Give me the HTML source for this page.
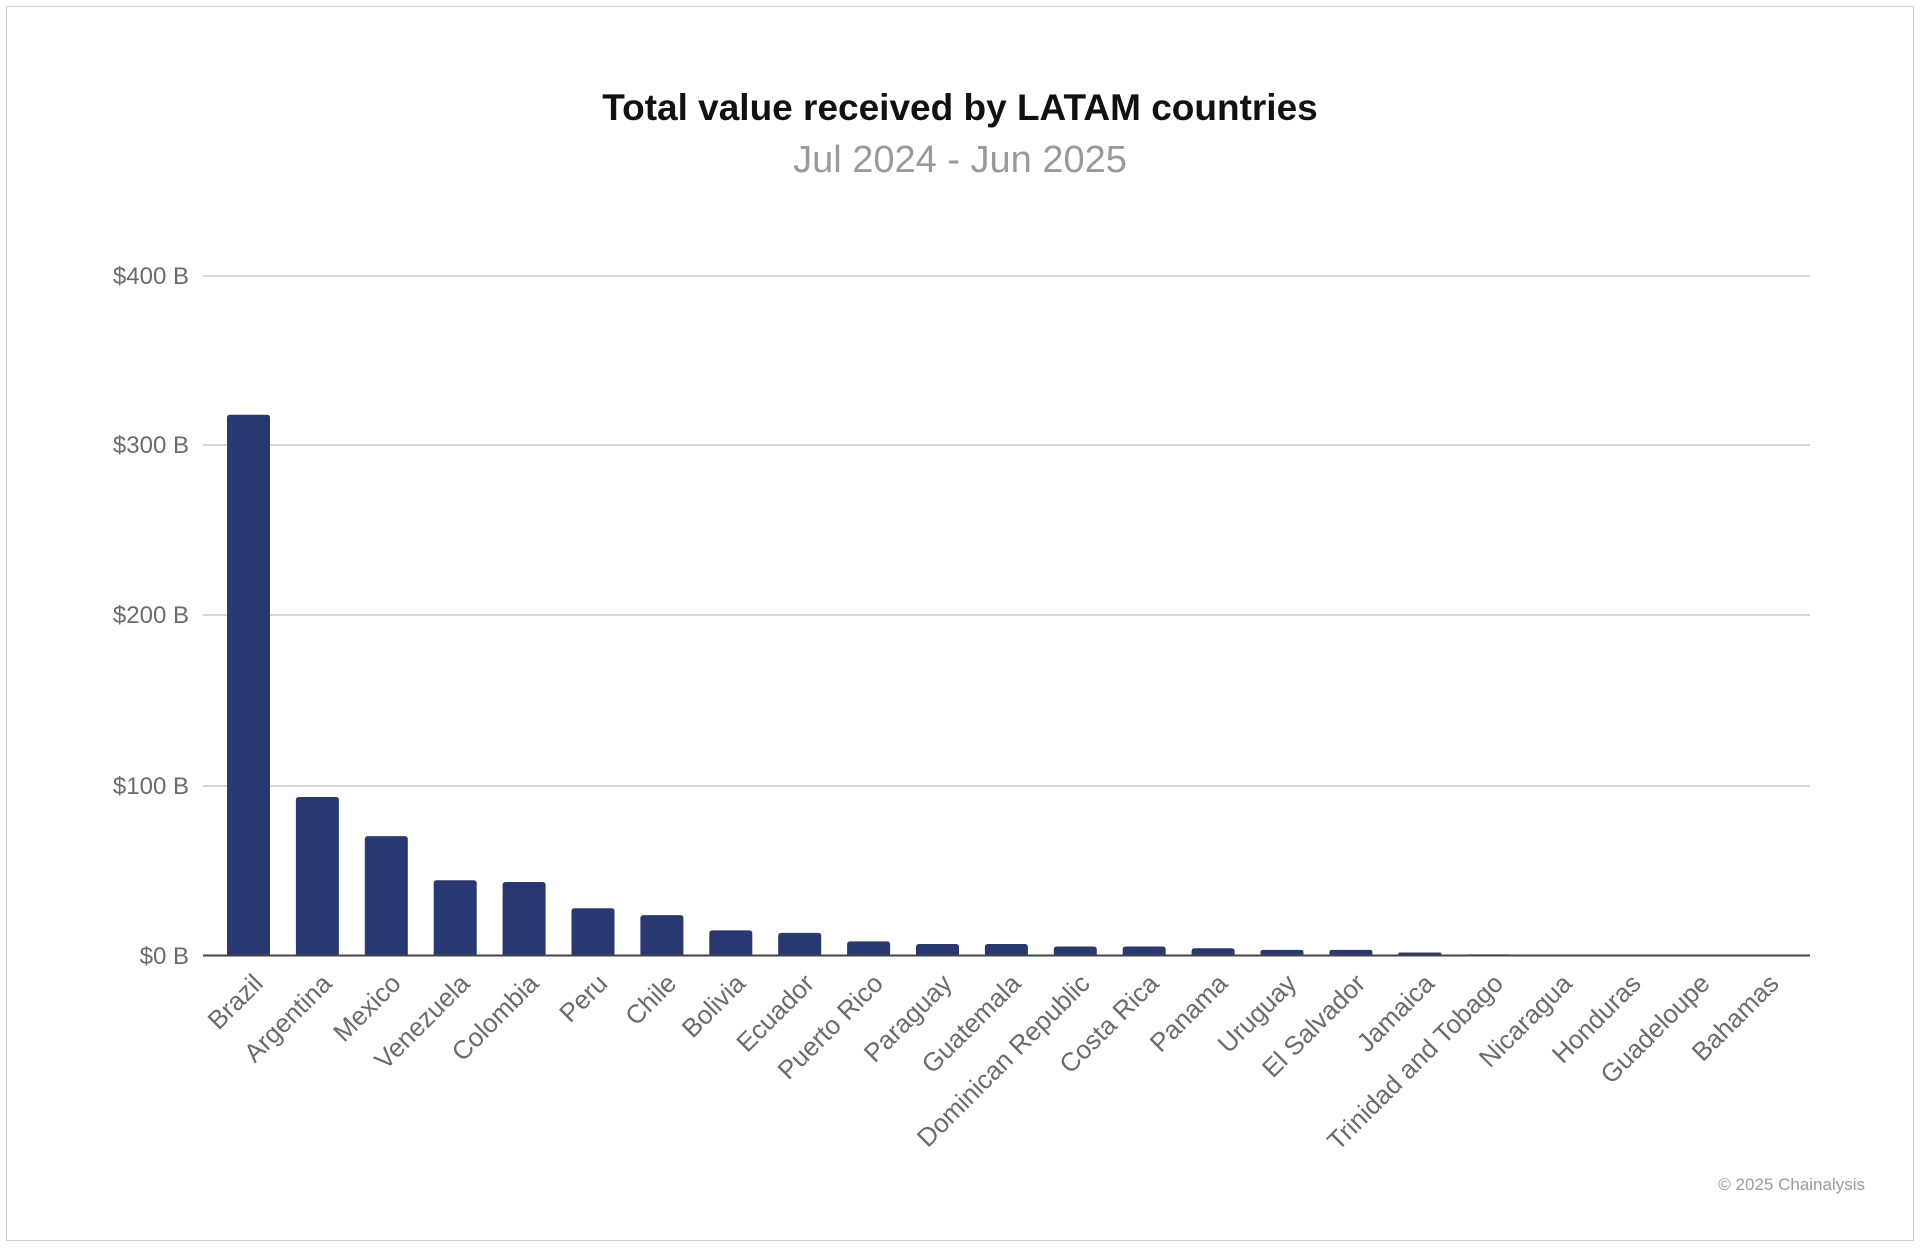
<!DOCTYPE html>
<html><head><meta charset="utf-8"><style>
html,body{margin:0;padding:0;background:#fff;}
svg{display:block;font-family:"Liberation Sans",sans-serif;}
</style></head><body>
<svg width="1920" height="1248" viewBox="0 0 1920 1248" xmlns="http://www.w3.org/2000/svg">
<rect x="6.5" y="6.5" width="1907" height="1234" fill="#fff" stroke="#cfcfcf" stroke-width="1"/>
<text x="960" y="120" text-anchor="middle" font-size="37" font-weight="bold" fill="#111">Total value received by LATAM countries</text>
<text x="960" y="172" text-anchor="middle" font-size="38" fill="#9a9a9a">Jul 2024 - Jun 2025</text>
<g stroke="#d6d6d6" stroke-width="2">
<line x1="203" y1="276" x2="1810" y2="276"/>
<line x1="203" y1="445" x2="1810" y2="445"/>
<line x1="203" y1="615" x2="1810" y2="615"/>
<line x1="203" y1="786" x2="1810" y2="786"/>
</g>
<g font-size="24" fill="#6b6b6b" text-anchor="end">
<text x="189" y="284">$400 B</text>
<text x="189" y="453">$300 B</text>
<text x="189" y="623">$200 B</text>
<text x="189" y="794">$100 B</text>
<text x="189" y="964">$0 B</text>
</g>
<g id="bars" fill="#283870"></g>
<line x1="203" y1="955.5" x2="1810" y2="955.5" stroke="#444" stroke-width="2"/>
<g id="labels" font-size="26" fill="#6b6b6b" text-anchor="end"></g>
<text x="1865" y="1190" text-anchor="end" font-size="17" fill="#9a9a9a">© 2025 Chainalysis</text>
<script>
var d=[["Brazil",318],["Argentina",93],["Mexico",70],["Venezuela",44],["Colombia",43],["Peru",27.5],["Chile",23.5],["Bolivia",14.5],["Ecuador",13],["Puerto Rico",8],["Paraguay",6.5],["Guatemala",6.5],["Dominican Republic",5],["Costa Rica",5],["Panama",4],["Uruguay",3],["El Salvador",3],["Jamaica",1.5],["Trinidad and Tobago",0.4],["Nicaragua",0.3],["Honduras",0.2],["Guadeloupe",0.05],["Bahamas",0.05]];
var ns="http://www.w3.org/2000/svg",b=document.getElementById("bars"),l=document.getElementById("labels");
d.forEach(function(e,i){var cx=248.5+i*68.9,h=e[1]*1.699,y=955-h;
var p=document.createElementNS(ns,"path");var r=Math.min(3,h/2);
p.setAttribute("d","M"+(cx-21.5)+","+955+"V"+(y+r)+"Q"+(cx-21.5)+","+y+" "+(cx-21.5+r)+","+y+"H"+(cx+21.5-r)+"Q"+(cx+21.5)+","+y+" "+(cx+21.5)+","+(y+r)+"V955Z");
b.appendChild(p);
var t=document.createElementNS(ns,"text");t.setAttribute("transform","translate("+(cx+16)+",985) rotate(-45)");t.textContent=e[0];l.appendChild(t);});
</script>
</svg>
</body></html>
